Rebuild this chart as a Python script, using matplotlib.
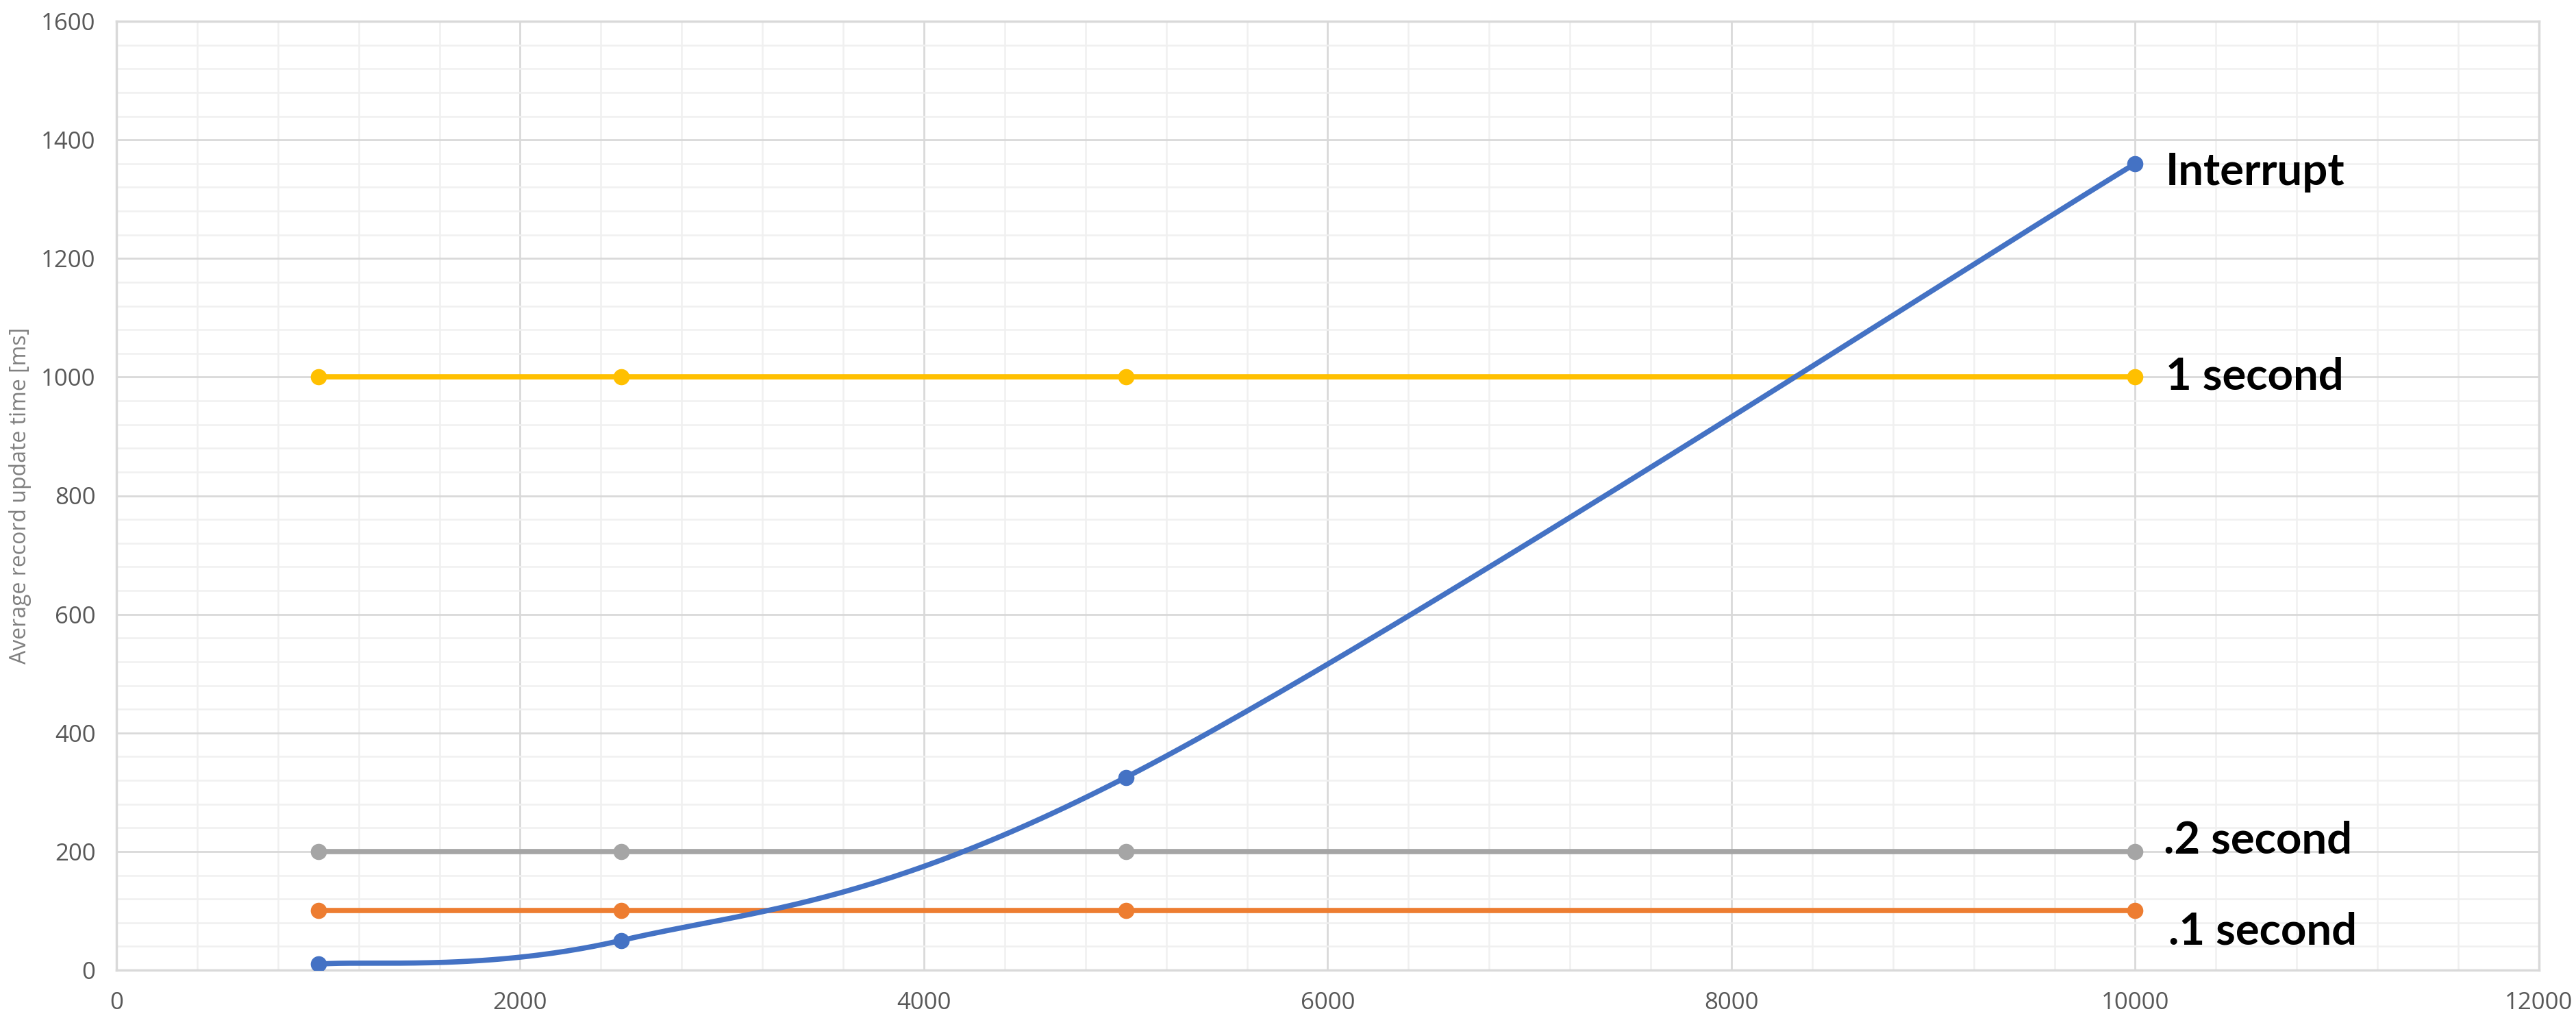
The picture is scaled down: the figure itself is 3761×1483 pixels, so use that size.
import matplotlib
matplotlib.use("Agg")
import matplotlib.pyplot as plt
import numpy as np

# data
records = [1000, 2500, 5000, 10000]
interrupt_ms = [10, 50, 325, 1360]
one_second_ms = [1000, 1000, 1000, 1000]
point_two_ms = [200, 200, 200, 200]
point_one_ms = [100, 100, 100, 100]

series_names = ["Interrupt", "1 second", ".2 second", ".1 second"]
series_colors = ["#4472C4", "#FFC000", "#A5A5A5", "#ED7D31"]


def excel_smooth(xs, ys, n=60):
    # bezier smoothing like Excel's "smoothed line"
    p = np.column_stack([xs, ys]).astype(float)
    pts = np.vstack([p[0], p, p[-1]])
    out = []
    for i in range(1, len(pts) - 2):
        p0, p1, p2, p3 = pts[i - 1], pts[i], pts[i + 1], pts[i + 2]
        c1 = p1 + (p2 - p0) / 6.0
        c2 = p2 - (p3 - p1) / 6.0
        t = np.linspace(0, 1, n)[:, None]
        seg = ((1 - t) ** 3) * p1 + 3 * ((1 - t) ** 2) * t * c1 + 3 * (1 - t) * t ** 2 * c2 + t ** 3 * p2
        out.append(seg)
    out = np.vstack(out)
    return out[:, 0], out[:, 1]


fig = plt.figure(figsize=(37.62, 14.83), dpi=100)
ax = fig.add_axes([170 / 3762, 1 - 1416 / 1483, 3537 / 3762, 1385 / 1483])

lw = 5.5
ms = 16

sx, sy = excel_smooth(records, interrupt_ms)
ax.plot(sx, sy, color=series_colors[0], lw=lw, solid_capstyle="round", zorder=5)
ax.plot(records, interrupt_ms, "o", color=series_colors[0], ms=ms, zorder=6)

for vals, col in [(one_second_ms, series_colors[1]),
                  (point_two_ms, series_colors[2]),
                  (point_one_ms, series_colors[3])]:
    ax.plot(records, vals, "-o", color=col, lw=lw, ms=ms, zorder=4)

# labels at the right end of each series
label_font = dict(fontsize=47, fontweight="bold", family=["Lato", "DejaVu Sans"], color="black", va="center", ha="left")
ax.text(10150, 1345, series_names[0], **label_font)
ax.text(10150, 1000, series_names[1], **label_font)
ax.text(10140, 218, series_names[2], **label_font)
ax.text(10165, 65, series_names[3], **label_font)

ax.set_xlim(0, 12000)
ax.set_ylim(0, 1600)
ax.set_xticks(np.arange(0, 12001, 2000))
ax.set_yticks(np.arange(0, 1601, 200))
ax.set_xticks(np.arange(0, 12001, 400), minor=True)
ax.set_yticks(np.arange(0, 1601, 40), minor=True)
ax.grid(which="major", color="#d9d9d9", lw=2)
ax.grid(which="minor", color="#f0f0f0", lw=1.8)
ax.set_axisbelow(True)

for s in ax.spines.values():
    s.set_color("#d9d9d9")
    s.set_linewidth(2.5)

ax.tick_params(which="both", length=0, labelsize=25, labelcolor="#595959", pad=22)
for lab in ax.get_xticklabels() + ax.get_yticklabels():
    lab.set_family(["Open Sans", "DejaVu Sans"])

ax.set_ylabel("Average record update time [ms]", fontsize=23, color="#808080",
              family=["Open Sans", "DejaVu Sans"], labelpad=10)

fig.savefig("out.png", dpi=100, facecolor="white")
